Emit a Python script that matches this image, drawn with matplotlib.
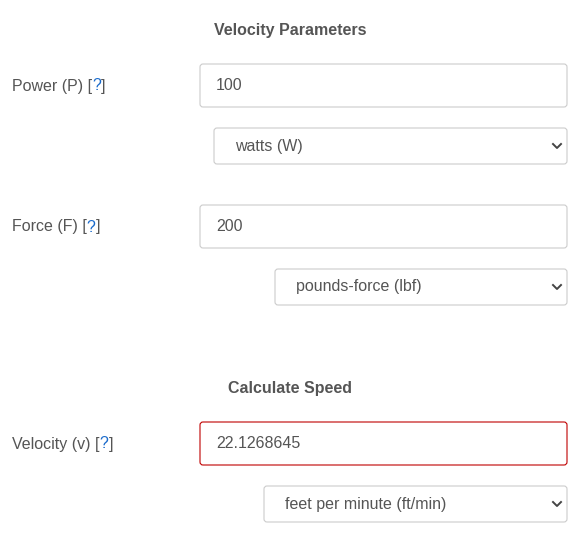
import matplotlib
matplotlib.use("Agg")
import matplotlib.pyplot as plt
from matplotlib.patches import FancyBboxPatch

plt.rcParams["font.family"] = ["Liberation Sans", "DejaVu Sans"]

# form contents
section_titles = ["Velocity Parameters", "Calculate Speed"]
section_y = [30, 388]
field_labels = ["Power (P) ", "Force (F) ", "Velocity (v) "]
field_values = ["100", "200", "22.1268645"]
field_y = [64, 205, 422]
unit_options = ["watts (W)", "pounds-force (lbf)", "feet per minute (ft/min)"]
unit_x = [214, 275, 264]
unit_y = [128, 269, 486]

W, H = 583, 537
fig = plt.figure(figsize=(W / 100, H / 100), dpi=100)
ax = fig.add_axes([0, 0, 1, 1])
ax.set_xlim(0, W); ax.set_ylim(H, 0); ax.axis("off")
fig.canvas.draw()
r = fig.canvas.get_renderer()

TXT = "#555555"; FS = 11.5


def box(x0, y0, x1, y1, edge):
    ax.add_patch(FancyBboxPatch((x0, y0), x1 - x0, y1 - y0,
                                boxstyle="round,pad=0,rounding_size=3",
                                fc="white", ec=edge, lw=0.8))


for t, y in zip(section_titles, section_y):
    ax.text(290, y, t, ha="center", va="center", fontsize=FS, fontweight="bold", color=TXT)

for i in range(3):
    fy = field_y[i]
    cy = fy + 21.5
    # label with [?]
    x = 12
    for part, col in [(field_labels[i] + "[", TXT), ("?", "#1a6bcc"), ("]", TXT)]:
        t = ax.text(x, cy + 5, part, ha="left", va="baseline", fontsize=FS, color=col)
        bb = t.get_window_extent(r)
        x += bb.width
    edge = "#c00000" if i == 2 else "#cccccc"
    box(200, fy, 567, fy + 43, edge)
    ax.text(216, cy, field_values[i], ha="left", va="center", fontsize=FS, color=TXT)
    # select
    uy = unit_y[i]
    box(unit_x[i], uy, 567, uy + 36, "#cccccc")
    ax.text(unit_x[i] + 21, uy + 18, unit_options[i], ha="left", va="center", fontsize=FS, color=TXT)
    ax.plot([553, 557, 561], [uy + 16, uy + 20, uy + 16], color="#444444", lw=1.4)

fig.savefig("out.png", dpi=100)
